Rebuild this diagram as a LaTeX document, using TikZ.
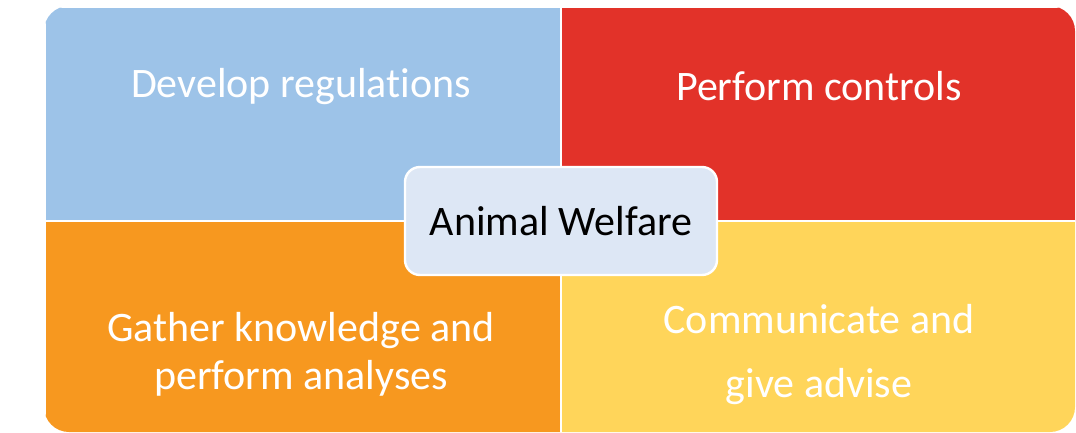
\documentclass[tikz,border=0pt]{standalone}
\usepackage{fontspec}
\setmainfont{Carlito}[Ligatures=CommonOff]
\usetikzlibrary{positioning}

\definecolor{regblue}{RGB}{157,195,232}
\definecolor{ctrlred}{RGB}{226,50,41}
\definecolor{knoworange}{RGB}{247,152,31}
\definecolor{advyellow}{RGB}{255,213,90}
\definecolor{centerblue}{RGB}{221,231,245}

\begin{document}
\begin{tikzpicture}[x=0.5pt, y=-0.5pt,
    quad/.style={rectangle, draw=white, line width=0.8pt, inner sep=0pt, anchor=north west},
    quadtext/.style={text=white, font=\fontsize{21}{24}\selectfont, align=center, inner sep=0pt}]
	\useasboundingbox (0,0) rectangle (1076,433);
	\begin{scope}
		\clip[rounded corners=12.5pt] (44,6) rectangle (1075,432);
		\node[quad, fill=regblue, minimum width=258pt, minimum height=107pt] (dev) at (44,6) {};
		\node[quad, fill=ctrlred, minimum width=257.5pt, minimum height=107pt] (ctrl) at (560,6) {};
		\node[quad, fill=knoworange, minimum width=258pt, minimum height=106pt] (know) at (44,220) {};
		\node[quad, fill=advyellow, minimum width=257.5pt, minimum height=106pt] (adv) at (560,220) {};
	\end{scope}
	
	\node[quadtext] (devtext) at (301,87) {Develop regulations};
	\node[quadtext] (ctrltext) at (819,86) {Perform controls};
	\node[quadtext] (knowtext) at (301,354) {Gather knowledge and\\perform analyses};
	\node[quadtext, font=\fontsize{21}{32}\selectfont] (advtext) at (819,355) {Communicate and\\give advise};
	
	\node[rectangle, rounded corners=7.5pt, draw=white, line width=1.2pt, fill=centerblue,
	      minimum width=156pt, minimum height=54pt, font=\fontsize{21}{24}\selectfont] (welfare) at (561,221) {Animal Welfare};
\end{tikzpicture}
\end{document}
